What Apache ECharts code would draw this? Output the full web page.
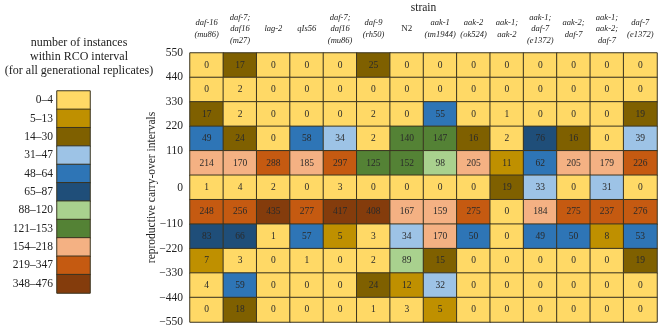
<!DOCTYPE html>
<html>
<head>
<meta charset="utf-8">
<script src="https://cdn.jsdelivr.net/npm/echarts@6/dist/echarts.min.js"></script>
<style>
  html, body { margin: 0; padding: 0; background: #fff; }
  #chart { width: 660px; height: 325px; }
</style>
</head>
<body>
<div id="chart"></div>
<script>
// strains (columns)
const strains = [
  'daf-16\n(mu86)', 'daf-7;\ndaf16\n(m27)', 'lag-2', 'qIs56', 'daf-7;\ndaf16\n(mu86)',
  'daf-9\n(rh50)', 'N2', 'aak-1\n(tm1944)', 'aak-2\n(ok524)', 'aak-1;\naak-2',
  'aak-1;\ndaf-7\n(e1372)', 'aak-2;\ndaf-7', 'aak-1;\naak-2;\ndaf-7', 'daf-7\n(e1372)'
]

// carry-over interval rows, top to bottom
const rowNames = ['r1', 'r2', 'r3', 'r4', 'r5', 'r6', 'r7', 'r8', 'r9', 'r10', 'r11']

const counts = [
  [0, 17, 0, 0, 0, 25, 0, 0, 0, 0, 0, 0, 0, 0],
  [0, 2, 0, 0, 0, 0, 0, 0, 0, 0, 0, 0, 0, 0],
  [17, 2, 0, 0, 0, 2, 0, 55, 0, 1, 0, 0, 0, 19],
  [49, 24, 0, 58, 34, 2, 140, 147, 16, 2, 76, 16, 0, 39],
  [214, 170, 288, 185, 297, 125, 152, 98, 205, 11, 62, 205, 179, 226],
  [1, 4, 2, 0, 3, 0, 0, 0, 0, 19, 33, 0, 31, 0],
  [248, 256, 435, 277, 417, 408, 167, 159, 275, 0, 184, 275, 237, 276],
  [83, 66, 1, 57, 5, 3, 34, 170, 50, 0, 49, 50, 8, 53],
  [7, 3, 0, 1, 0, 2, 89, 15, 0, 0, 0, 0, 0, 19],
  [4, 59, 0, 0, 0, 24, 12, 32, 0, 0, 0, 0, 0, 0],
  [0, 18, 0, 0, 0, 1, 3, 5, 0, 0, 0, 0, 0, 0]
]

// y tick labels: boundaries above/below, '0' sits on the middle row
const yTickLabels = ['550', '440', '330', '220', '110', '0', '-110', '-220', '-330', '-440', '-550']

// colour bins
const binMin = [0, 5, 14, 31, 48, 65, 88, 121, 154, 219, 348]
const binMax = [4, 13, 30, 47, 64, 87, 120, 153, 218, 347, 476]
const binColors = ['#ffd966', '#bf9000', '#7f6000', '#9dc3e6', '#2e75b6', '#1f4e79',
  '#a9d18e', '#548235', '#f4b183', '#c55a11', '#843c0c']

const serif = "'Liberation Serif', 'DejaVu Serif', serif"

const heatData = []
counts.forEach((row, r) => {
  row.forEach((v, c) => heatData.push([c, r, v]))
})

const binLabels = binMin.map((m, i) => m + '\u2013' + binMax[i])
const legendData = binMin.map((m, i) => [0, i, m])

// place tick labels on row boundaries (0 in the centre of row 6)
const tickAt = {}
yTickLabels.forEach((t, i) => {
  const pos = i < 5 ? i : (i === 5 ? 5.5 : i + 1)
  tickAt[pos] = t.replace('-', '\u2212')
})

const chart = echarts.init(document.getElementById('chart'))
chart.setOption({
  animation: false,
  textStyle: { fontFamily: serif },
  title: {
    text: 'number of instances\nwithin RCO interval\n(for all generational replicates)',
    left: 74,
    top: 31,
    textAlign: 'center',
    textStyle: { fontSize: 12, lineHeight: 14, fontWeight: 'normal', color: '#222', fontFamily: serif }
  },
  grid: [
    { left: 190, right: 3, top: 53, bottom: 3, outerBoundsMode: 'none', containLabel: false },
    { left: 57, top: 91, width: 33, height: 202, outerBoundsMode: 'none', containLabel: false }
  ],
  xAxis: [
    {
      type: 'category',
      gridIndex: 0,
      position: 'top',
      data: strains,
      name: 'strain',
      nameLocation: 'middle',
      nameGap: 45,
      nameMoveOverlap: false,
      nameTextStyle: { fontSize: 11.5, color: '#222', fontFamily: serif, verticalAlign: 'middle' },
      axisLine: { show: false },
      axisTick: { show: false },
      axisLabel: {
        interval: 0,
        margin: 24,
        verticalAlign: 'middle',
        fontSize: 8.5,
        lineHeight: 11.5,
        fontStyle: 'italic',
        color: '#222',
        fontFamily: serif,
        formatter: v => v === 'N2' ? '{n|N2}' : v,
        rich: { n: { fontStyle: 'normal', fontSize: 9, color: '#222', fontFamily: serif } }
      }
    },
    {
      type: 'category',
      gridIndex: 1,
      data: [''],
      show: false
    }
  ],
  yAxis: [
    {
      type: 'category',
      gridIndex: 0,
      inverse: true,
      data: rowNames,
      axisLine: { show: false },
      axisTick: { show: false },
      axisLabel: { show: false }
    },
    {
      type: 'category',
      gridIndex: 1,
      inverse: true,
      data: binLabels,
      axisLine: { show: false },
      axisTick: { show: false },
      axisLabel: { fontSize: 11.5, color: '#222', margin: 4, fontFamily: serif }
    },
    {
      type: 'value',
      gridIndex: 0,
      position: 'left',
      inverse: true,
      min: 0,
      max: 11,
      interval: 0.5,
      name: 'reproductive carry-over intervals',
      nameLocation: 'middle',
      nameGap: 38,
      nameRotate: 90,
      nameMoveOverlap: false,
      nameTextStyle: { fontSize: 11.5, color: '#222', fontFamily: serif, verticalAlign: 'middle' },
      splitLine: { show: false },
      axisLine: { show: false },
      axisTick: { show: false },
      axisLabel: {
        fontSize: 11.5,
        color: '#222',
        margin: 7,
        fontFamily: serif,
        showMinLabel: true,
        showMaxLabel: true,
        formatter: v => tickAt[v] !== undefined ? tickAt[v] : ''
      }
    }
  ],
  visualMap: {
    type: 'piecewise',
    show: false,
    dimension: 2,
    seriesIndex: [0, 1],
    pieces: binMin.map((m, i) => ({ min: m, max: binMax[i], color: binColors[i] }))
  },
  series: [
    {
      type: 'heatmap',
      xAxisIndex: 0,
      yAxisIndex: 0,
      data: heatData,
      itemStyle: { borderColor: '#3a3420', borderWidth: 1 },
      label: { show: true, fontSize: 9.5, color: '#2a2a2a', fontFamily: serif },
      emphasis: { disabled: true }
    },
    {
      type: 'heatmap',
      xAxisIndex: 1,
      yAxisIndex: 1,
      data: legendData,
      itemStyle: { borderColor: '#3a3420', borderWidth: 1 },
      label: { show: false },
      emphasis: { disabled: true }
    }
  ]
})
</script>
</body>
</html>
